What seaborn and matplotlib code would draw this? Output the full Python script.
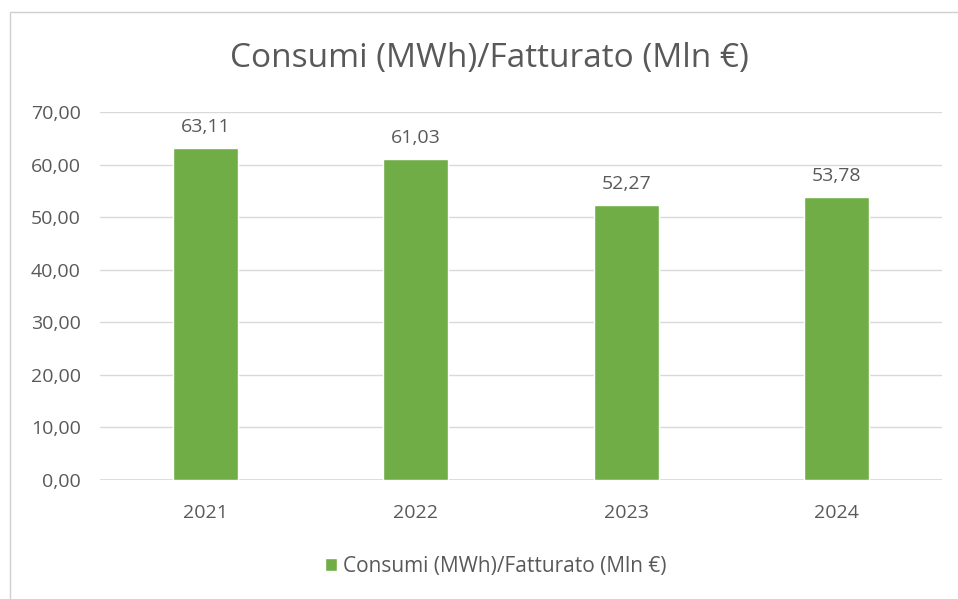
import matplotlib.pyplot as plt
import seaborn as sns
import pandas as pd
from matplotlib.patches import Rectangle

# data
years = ['2021', '2022', '2023', '2024']
values = [63.11, 61.03, 52.27, 53.78]
y_ticks = [0, 10, 20, 30, 40, 50, 60, 70]
series_name = 'Consumi (MWh)/Fatturato (Mln €)'

df = pd.DataFrame({'anno': years, 'valore': values})

sns.set_style('white')
plt.rcParams['font.family'] = ['Open Sans', 'DejaVu Sans']

green = '#70AD47'
txt = '#595959'
grid = '#D9D9D9'

fig = plt.figure(figsize=(9.58, 5.99), dpi=100)
ax = fig.add_axes([0.1044, 0.1987, 0.8789, 0.6143])

sns.barplot(data=df, x='anno', y='valore', color=green, width=0.31,
            saturation=1, ax=ax, label=series_name)

ax.set_ylim(0, 70)
ax.set_xlim(-0.5, 3.5)
ax.set_yticks(y_ticks)
ax.set_yticklabels([f'{v:.2f}'.replace('.', ',') for v in y_ticks])
ax.yaxis.grid(True, color=grid, linewidth=1)
ax.set_axisbelow(True)
for s in ax.spines.values():
    s.set_visible(False)
ax.axhline(0, color=grid, linewidth=1.2, zorder=0.5)
ax.tick_params(axis='both', length=0, labelsize=14, colors=txt)
ax.tick_params(axis='y', pad=14)
ax.tick_params(axis='x', pad=17)
ax.set_xlabel('')
ax.set_ylabel('')

for c in ax.containers:
    ax.bar_label(c, labels=[f'{v:.2f}'.replace('.', ',') for v in values],
                 padding=9, fontsize=14, color=txt)

fig.text(0.511, 0.903, series_name, ha='center', va='center',
         fontsize=24, color=txt)

leg = ax.legend(loc='center', bbox_to_anchor=(0.47, -0.235), frameon=False,
                fontsize=15, handlelength=0.55, handleheight=0.55,
                handletextpad=0.3)
for t in leg.get_texts():
    t.set_color(txt)

# light frame around the chart area
fig.patches.append(Rectangle((10 / 958, -0.1), 1.2, 1 - 12 / 599 + 0.1,
                             transform=fig.transFigure, fill=False,
                             edgecolor='#D0D0D0', linewidth=1))

fig.savefig('out.png', dpi=100)
